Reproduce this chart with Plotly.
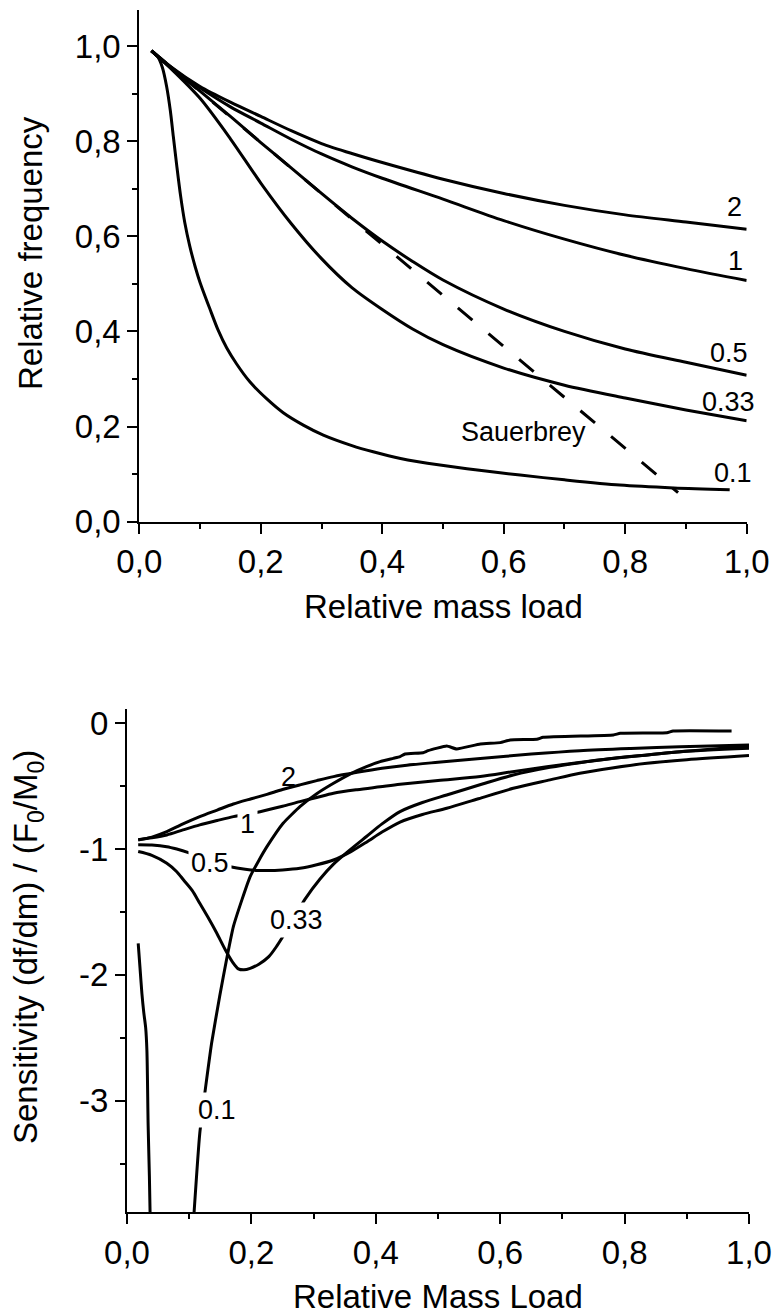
import plotly.graph_objects as go

# ---------------- data: top panel (relative frequency) ----------------
x_r2 = [0.02, 0.05, 0.1, 0.15, 0.2, 0.25, 0.3, 0.35, 0.4, 0.5, 0.6, 0.7, 0.8, 0.9, 1.0]
y_r2 = [0.99, 0.958, 0.915, 0.882, 0.852, 0.822, 0.795, 0.774, 0.755, 0.72, 0.69, 0.665, 0.645, 0.63, 0.615]

x_r1 = [0.02, 0.05, 0.1, 0.15, 0.2, 0.25, 0.3, 0.35, 0.4, 0.5, 0.6, 0.7, 0.8, 0.9, 1.0]
y_r1 = [0.99, 0.957, 0.912, 0.872, 0.838, 0.804, 0.773, 0.746, 0.722, 0.678, 0.633, 0.594, 0.56, 0.532, 0.507]

x_r05 = [0.02, 0.05, 0.1, 0.15, 0.2, 0.25, 0.3, 0.35, 0.4, 0.45, 0.5, 0.6, 0.7, 0.8, 0.9, 1.0]
y_r05 = [0.99, 0.958, 0.905, 0.852, 0.797, 0.744, 0.69, 0.638, 0.59, 0.547, 0.508, 0.447, 0.4, 0.363, 0.335, 0.308]

x_r033 = [0.02, 0.05, 0.1, 0.15, 0.2, 0.25, 0.3, 0.35, 0.4, 0.45, 0.5, 0.6, 0.7, 0.8, 0.9, 1.0]
y_r033 = [0.99, 0.955, 0.89, 0.805, 0.712, 0.627, 0.553, 0.492, 0.446, 0.405, 0.372, 0.323, 0.287, 0.26, 0.235, 0.212]

x_r01 = [0.02, 0.03, 0.038, 0.045, 0.051, 0.056, 0.062, 0.068, 0.075, 0.083, 0.092, 0.1, 0.116, 0.13,
         0.144, 0.16, 0.182, 0.21, 0.237, 0.27, 0.303, 0.35, 0.385, 0.43, 0.495, 0.56, 0.627, 0.7,
         0.791, 0.88, 0.972]
y_r01 = [0.99, 0.978, 0.955, 0.915, 0.865, 0.81, 0.745, 0.685, 0.628, 0.58, 0.536, 0.503, 0.448, 0.402,
         0.365, 0.332, 0.294, 0.258, 0.229, 0.203, 0.182, 0.16, 0.147, 0.133, 0.119, 0.108, 0.098, 0.088,
         0.077, 0.071, 0.067]

x_sauer = [0.02, 0.887]
y_sauer = [0.99, 0.061]

# ---------------- data: bottom panel (sensitivity) ----------------
x_s2 = [0.018, 0.04, 0.064, 0.09, 0.117, 0.145, 0.171, 0.2, 0.225, 0.25, 0.278, 0.305, 0.332, 0.37,
        0.41, 0.45, 0.5, 0.568, 0.65, 0.728, 0.81, 0.889, 1.0]
y_s2 = [-0.928, -0.905, -0.862, -0.8, -0.742, -0.69, -0.642, -0.6, -0.565, -0.527, -0.49, -0.456, -0.424, -0.39,
        -0.358, -0.333, -0.31, -0.28, -0.245, -0.218, -0.2, -0.186, -0.172]

x_s1 = [0.018, 0.04, 0.064, 0.09, 0.117, 0.145, 0.171, 0.214, 0.25, 0.278, 0.305, 0.332, 0.37, 0.407,
        0.439, 0.5, 0.568, 0.62, 0.675, 0.73, 0.782, 0.84, 0.889, 1.0]
y_s1 = [-0.925, -0.91, -0.888, -0.848, -0.808, -0.773, -0.742, -0.703, -0.66, -0.623, -0.59, -0.557, -0.528, -0.505,
        -0.485, -0.455, -0.424, -0.385, -0.345, -0.31, -0.278, -0.25, -0.226, -0.199]

x_s05 = [0.018, 0.04, 0.064, 0.08, 0.1, 0.117, 0.133, 0.15, 0.166, 0.19, 0.21, 0.225, 0.25, 0.278, 0.305,
         0.332, 0.36, 0.385, 0.41, 0.439, 0.475, 0.514, 0.565, 0.621, 0.68, 0.728, 0.78, 0.836, 0.9, 1.0]
y_s05 = [-0.966, -0.968, -0.981, -1.0, -1.03, -1.06, -1.09, -1.118, -1.14, -1.16, -1.17, -1.171, -1.166, -1.153, -1.125,
         -1.087, -1.02, -0.945, -0.865, -0.785, -0.725, -0.676, -0.6, -0.517, -0.45, -0.397, -0.355, -0.318, -0.29, -0.257]

x_s033 = [0.018, 0.04, 0.064, 0.08, 0.091, 0.105, 0.117, 0.13, 0.144, 0.158, 0.17, 0.179, 0.188, 0.198, 0.212,
          0.228, 0.241, 0.26, 0.286, 0.31, 0.332, 0.36, 0.385, 0.41, 0.439, 0.475, 0.514, 0.57, 0.621, 0.68,
          0.728, 0.78, 0.836, 0.9, 1.0]
y_s033 = [-1.02, -1.05, -1.113, -1.18, -1.246, -1.33, -1.431, -1.54, -1.665, -1.8, -1.9, -1.952, -1.96, -1.948, -1.915,
          -1.855, -1.77, -1.62, -1.40, -1.24, -1.12, -1.0, -0.9, -0.8, -0.702, -0.63, -0.57, -0.485, -0.411, -0.35,
          -0.313, -0.28, -0.252, -0.222, -0.18]

x_s01a = [0.018, 0.021, 0.024, 0.027, 0.030, 0.032, 0.034, 0.036, 0.0375]
y_s01a = [-1.75, -1.95, -2.15, -2.3, -2.42, -2.6, -3.2, -3.6, -4.0]

x_s01b = [0.105, 0.117, 0.136, 0.149, 0.16, 0.171, 0.185, 0.198, 0.212, 0.225, 0.251, 0.278, 0.305,
          0.332, 0.36, 0.385, 0.407, 0.428, 0.439, 0.447, 0.476, 0.484, 0.514, 0.53, 0.568, 0.6, 0.616, 0.659,
          0.669, 0.782, 0.793, 0.868, 0.878, 0.972]
y_s01b = [-4.1, -3.26, -2.544, -2.17, -1.88, -1.617, -1.4, -1.219, -1.09, -0.981, -0.795, -0.663, -0.56,
          -0.477, -0.40, -0.345, -0.305, -0.279, -0.265, -0.244, -0.234, -0.218, -0.181, -0.204, -0.165, -0.154,
          -0.133, -0.127, -0.112, -0.093, -0.08, -0.075, -0.061, -0.061]

# ---------------- ticks ----------------
x_tickvals = [0.0, 0.2, 0.4, 0.6, 0.8, 1.0]
x_ticktext = ["0,0", "0,2", "0,4", "0,6", "0,8", "1,0"]
x_minor = [0.1, 0.3, 0.5, 0.7, 0.9]
top_y_tickvals = [0.0, 0.2, 0.4, 0.6, 0.8, 1.0]
top_y_ticktext = ["0,0", "0,2", "0,4", "0,6", "0,8", "1,0"]
top_y_minor = [0.1, 0.3, 0.5, 0.7, 0.9]
bot_y_tickvals = [0, -1, -2, -3]
bot_y_ticktext = ["0", "-1", "-2", "-3"]
bot_y_minor = [-0.5, -1.5, -2.5, -3.5]

FONT = "Liberation Sans, Arial, Helvetica, sans-serif"
W, H = 773, 1315

fig = go.Figure()

smooth = dict(color="black", width=3, shape="spline", smoothing=0.8)
for xs, ys in [(x_r2, y_r2), (x_r1, y_r1), (x_r05, y_r05), (x_r033, y_r033), (x_r01, y_r01)]:
    fig.add_trace(go.Scatter(x=xs, y=ys, mode="lines", line=smooth,
                             xaxis="x", yaxis="y", showlegend=False, hoverinfo="skip"))
fig.add_trace(go.Scatter(x=x_sauer, y=y_sauer, mode="lines",
                         line=dict(color="black", width=3, dash="19px,21px"),
                         xaxis="x", yaxis="y", showlegend=False, hoverinfo="skip"))

for xs, ys in [(x_s2, y_s2), (x_s1, y_s1), (x_s05, y_s05), (x_s033, y_s033), (x_s01a, y_s01a)]:
    fig.add_trace(go.Scatter(x=xs, y=ys, mode="lines", line=smooth,
                             xaxis="x2", yaxis="y2", showlegend=False, hoverinfo="skip"))
fig.add_trace(go.Scatter(x=x_s01b, y=y_s01b, mode="lines",
                         line=dict(color="black", width=3, shape="spline", smoothing=0.4),
                         xaxis="x2", yaxis="y2", showlegend=False, hoverinfo="skip"))

TICKSIZE = 33

def xa(domain, anchor):
    return dict(domain=domain, anchor=anchor, range=[0, 1], showgrid=False, zeroline=False,
                showline=True, linecolor="black", linewidth=2,
                ticks="outside", ticklen=10, tickwidth=2, tickcolor="black",
                tickvals=x_tickvals, ticktext=x_ticktext,
                tickfont=dict(family=FONT, size=TICKSIZE, color="black"),
                minor=dict(tickvals=x_minor, ticks="outside", ticklen=5, tickwidth=2, tickcolor="black"),
                automargin=False, fixedrange=True)

def ya(domain, anchor, rng, tv, tt, mv):
    return dict(domain=domain, anchor=anchor, range=rng, showgrid=False, zeroline=False,
                showline=True, linecolor="black", linewidth=2,
                ticks="outside", ticklen=10, tickwidth=2, tickcolor="black",
                tickvals=tv, ticktext=tt,
                tickfont=dict(family=FONT, size=TICKSIZE, color="black"),
                minor=dict(tickvals=mv, ticks="outside", ticklen=5, tickwidth=2, tickcolor="black"),
                automargin=False, fixedrange=True)

fig.update_layout(
    width=W, height=H, margin=dict(l=0, r=0, t=0, b=0),
    paper_bgcolor="white", plot_bgcolor="white",
    xaxis=xa([139.3 / W, 746.7 / W], "y"),
    yaxis=ya([(H - 521.7) / H, (H - 10) / H], "x", [0, 1.0757], top_y_tickvals, top_y_ticktext, top_y_minor),
    xaxis2=xa([127 / W, 749 / W], "y2"),
    yaxis2=ya([(H - 1212) / H, (H - 709.3) / H], "x2", [-3.885, 0.111], bot_y_tickvals, bot_y_ticktext,
              bot_y_minor),
)

lab = dict(family=FONT, size=27, color="black")
# curve labels, top
for txt, x, y in [("2", 0.98, 0.662), ("1", 0.982, 0.547), ("0.5", 0.971, 0.355),
                  ("0.33", 0.970, 0.252), ("Sauerbrey", 0.632, 0.189), ("0.1", 0.978, 0.102)]:
    fig.add_annotation(x=x, y=y, xref="x", yref="y", text=txt, showarrow=False, font=lab)
# curve labels, bottom
fig.add_annotation(x=0.259, y=-0.424, xref="x2", yref="y2", text="2", showarrow=False, font=lab)
for txt, x, y in [("1", 0.194, -0.80), ("0.5", 0.133, -1.113), ("0.33", 0.273, -1.563), ("0.1", 0.144, -3.074)]:
    fig.add_annotation(x=x, y=y, xref="x2", yref="y2", text=txt, showarrow=False, font=lab,
                       bgcolor="white", borderpad=2)

tfont = dict(family=FONT, size=33, color="black")
# axis titles
fig.add_annotation(x=30 / W, y=1 - 253 / H, xref="paper", yref="paper", text="Relative frequency",
                   textangle=-90, showarrow=False, font=tfont, xanchor="center", yanchor="middle")
fig.add_annotation(x=443 / W, y=1 - 606 / H, xref="paper", yref="paper", text="Relative mass load",
                   showarrow=False, font=tfont, xanchor="center", yanchor="middle")
fig.add_annotation(x=28 / W, y=1 - 947 / H, xref="paper", yref="paper",
                   text="Sensitivity (df/dm) / (F<sub>0</sub>/M<sub>0</sub>)",
                   textangle=-90, showarrow=False, font=tfont, xanchor="center", yanchor="middle")
fig.add_annotation(x=438 / W, y=1 - 1296 / H, xref="paper", yref="paper", text="Relative Mass Load",
                   showarrow=False, font=tfont, xanchor="center", yanchor="middle")

fig.write_html("out.html", config={"displayModeBar": False})
